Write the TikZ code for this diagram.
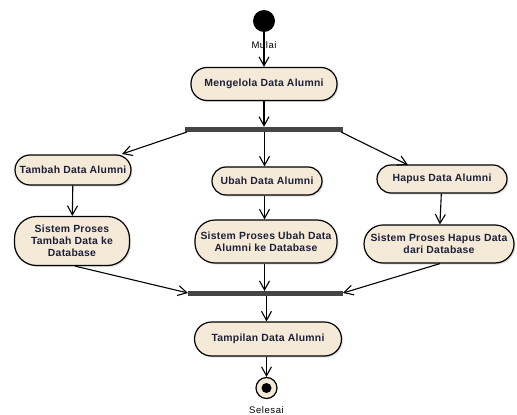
\documentclass[tikz,border=0pt]{standalone}
\usepackage{fontspec}
\setmainfont{Liberation Sans}
\newfontfamily\actfont[LetterSpace=2.5]{Liberation Sans}
\newfontfamily\lblfont[LetterSpace=6]{Liberation Sans}
\usetikzlibrary{arrows.meta,shadows}
\definecolor{actfill}{HTML}{F5E9D8}
\definecolor{acttext}{HTML}{1C2038}
\definecolor{barcol}{HTML}{454545}
\tikzset{
  act/.style={draw=black, line width=1.2pt, fill=actfill, rounded corners=#1,
    align=center, font=\actfont\bfseries\fontsize{10.4}{12}\selectfont, text=acttext,
    inner sep=1pt, drop shadow={opacity=0.25, shadow xshift=1.5pt, shadow yshift=-1.5pt}},
  act/.default=14pt,
  syncbar/.style={fill=barcol, draw=none, minimum height=5pt, inner sep=0pt},
  flow/.style={draw=black, line width=1.1pt, -{Straight Barb[length=9pt,width=10pt,line width=1.1pt]}},
  lbl/.style={font=\lblfont\fontsize{9.5}{10}\selectfont, text=black}
}
\begin{document}
\begin{tikzpicture}[x=1pt,y=-1pt]
\useasboundingbox (0,0) rectangle (517,415);
% start
\node[circle, fill=black, minimum size=22pt, inner sep=0pt] (start) at (264,21) {};
\node[lbl] (mulai) at (264,45) {Mulai};
\node[act=16pt, minimum width=146pt, minimum height=33pt] (m1) at (264,84) {Mengelola Data Alumni};
\node[syncbar, minimum width=158pt] (fork) at (264,129.5) {};
\coordinate (forkL) at (187,132);
\coordinate (forkM) at (264.5,132);
\coordinate (forkR) at (341,132);
\node[act=15pt, minimum width=116pt, minimum height=30pt] (t1) at (73,170) {Tambah Data Alumni};
\node[act=22pt, minimum width=115pt, minimum height=49pt] (t2) at (72,241) {Sistem Proses\\Tambah Data ke\\Database};
\node[act=14pt, minimum width=110pt, minimum height=28pt] (u1) at (267,181) {Ubah Data Alumni};
\node[act=20pt, minimum width=142pt, minimum height=43pt] (u2) at (266,241.5) {Sistem Proses Ubah Data\\Alumni ke Database};
\node[act=14pt, minimum width=130pt, minimum height=28pt] (h1) at (442,179) {Hapus Data Alumni};
\node[act=19pt, minimum width=150pt, minimum height=38pt] (h2) at (439,244) {Sistem Proses Hapus Data\\dari Database};
\node[syncbar, minimum width=155pt] (join) at (265.5,293.5) {};
\coordinate (joinL) at (188,293);
\coordinate (joinM) at (264.5,291);
\coordinate (joinR) at (343,293);
\coordinate (joinB) at (266.5,296);
\node[act=17pt, minimum width=147pt, minimum height=34pt] (tamp) at (268,339) {Tampilan Data Alumni};
\node[circle, draw=black, line width=1.2pt, fill=actfill, minimum size=21pt, inner sep=0pt] (end) at (266.5,388) {};
\node[circle, fill=black, minimum size=10pt, inner sep=0pt] (endin) at (266.5,388) {};
\node[lbl] (selesai) at (266.5,410) {Selesai};
% flows
\draw[flow] (start) -- (m1);
\draw[flow] (m1) -- (fork);
\draw[flow] (forkL) -- (122,154) coordinate (tA);
\draw[flow] (forkM) -- (forkM |- u1.north);
\draw[flow] (forkR) -- (408,165) coordinate (hA);
\draw[flow] (t1) -- (t2);
\draw[flow] (u1.south -| forkM) -- (u2.north -| forkM);
\draw[flow] (h1) -- (h2);
\draw[flow] (t2.south) ++(3,0) coordinate (t2b) -- (joinL);
\draw[flow] (u2.south -| joinM) -- (joinM);
\draw[flow] (h2.south) ++(1,0) coordinate (h2b) -- (joinR);
\draw[flow] (joinB) -- (joinB |- tamp.north);
\draw[flow] (tamp.south -| end) -- (end);
\end{tikzpicture}
\end{document}
